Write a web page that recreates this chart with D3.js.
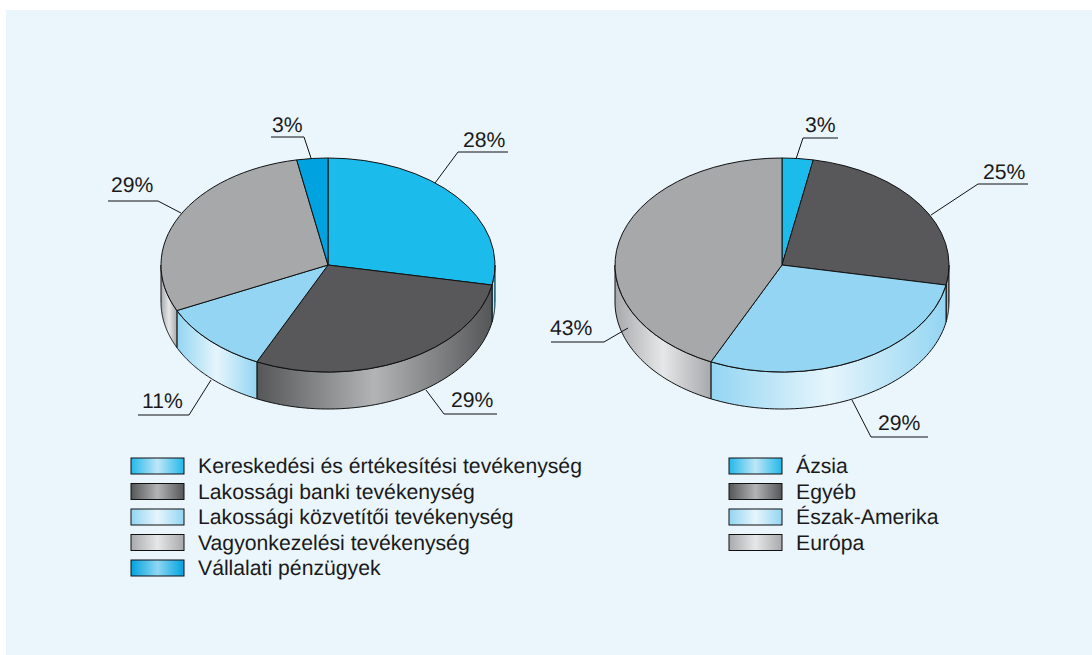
<!DOCTYPE html>
<html>
<head>
<meta charset="utf-8">
<script src="https://cdn.jsdelivr.net/npm/d3@7"></script>
<style>
	html, body { margin: 0; padding: 0; background: #fff; }
	svg { display: block; }
	text { font-family: "Liberation Sans", Arial, sans-serif; fill: #1a1a1a; text-rendering: geometricPrecision; }
</style>
</head>
<body>
<script>
// values, percent
const businessNames = ['Kereskedési és értékesítési tevékenység', 'Lakossági banki tevékenység', 'Lakossági közvetítői tevékenység', 'Vagyonkezelési tevékenység', 'Vállalati pénzügyek'];
const businessValues = [28, 29, 11, 29, 3];
const regionNames = ['Ázsia', 'Egyéb', 'Észak-Amerika', 'Európa'];
const regionValues = [3, 25, 29, 43];

const sky = { top: '#1bbbec', edge: '#22b8ea', mid: '#bfe6f7' };
const dark = { top: '#58585a', edge: '#555658', mid: '#b3b4b6' };
const light = { top: '#93d5f2', edge: '#93d5f2', mid: '#e6f5fc' };
const gray = { top: '#a7a8aa', edge: '#a7a9ac', mid: '#e6e7e8' };
const deep = { top: '#00a3df', edge: '#00a3df', mid: '#8fd6f3' };

const businessColors = [sky, dark, light, gray, deep];
const regionColors = [sky, dark, light, gray];

// leader lines: [anchor, elbow, end], then label x and baseline
const businessLeaders = [
	{ pts: [[435, 183], [458, 152], [508, 152]], tx: 463, ty: 147 },
	{ pts: [[426, 390], [444, 414], [497, 414]], tx: 451, ty: 407 },
	{ pts: [[211, 380], [189, 415], [138, 415]], tx: 142, ty: 408 },
	{ pts: [[181, 213], [158, 201], [108, 201]], tx: 111, ty: 192 },
	{ pts: [[311, 158], [304, 137], [271, 137]], tx: 272, ty: 132 }
];
const regionLeaders = [
	{ pts: [[796, 159], [803, 138], [838, 138]], tx: 805, ty: 132 },
	{ pts: [[931, 215], [978, 184], [1028, 184]], tx: 983, ty: 179 },
	{ pts: [[852, 400], [871, 437], [928, 437]], tx: 878, ty: 430 },
	{ pts: [[628, 328], [604, 342], [551, 342]], tx: 550, ty: 335 }
];

const W = 1092, H = 655;
const rx = 167, ry = 107, depth = 37;
const fontSize = 21.2;

const svg = d3.select('body').append('svg').attr('width', W).attr('height', H);
const defs = svg.append('defs');
svg.append('rect').attr('x', 6).attr('y', 10).attr('width', W - 6).attr('height', H - 10).attr('fill', '#eaf5fc');

let gradId = 0;
function wallGradient(c) {
	let id = 'wall' + (gradId++);
	let g = defs.append('linearGradient').attr('id', id);
	g.append('stop').attr('offset', 0).attr('stop-color', c.edge);
	g.append('stop').attr('offset', 0.5).attr('stop-color', c.mid);
	g.append('stop').attr('offset', 1).attr('stop-color', c.edge);
	return `url(#${id})`;
}

function drawPie(cx, cy, values, colors, leaders) {
	const g = svg.append('g');
	const x = d3.scaleLinear().domain([-1, 1]).range([cx - rx, cx + rx]);
	const y = d3.scaleLinear().domain([-1, 1]).range([cy - ry, cy + ry]);
	const slices = d3.pie().sort(null).startAngle(0).endAngle(2 * Math.PI)(values);
	const arc = d3.arc().innerRadius(0).outerRadius(rx);

	// walls, only the front half of the cylinder shows
	for(let s of slices) {
		let a0 = Math.max(s.startAngle, Math.PI / 2);
		let a1 = Math.min(s.endAngle, Math.PI * 1.5);
		if(a1 <= a0) { continue; }
		let angles = d3.range(0, 61).map(i => a0 + (a1 - a0) * i / 60);
		let rim = angles.map(a => [x(Math.sin(a)), y(-Math.cos(a))]);
		let low = rim.map(p => [p[0], p[1] + depth]).reverse();
		g.append('path')
			.attr('d', d3.line()(rim.concat(low)) + 'Z')
			.attr('fill', wallGradient(colors[s.index]))
			.attr('stroke', '#111')
			.attr('stroke-width', 1)
			.attr('stroke-linejoin', 'round');
	}

	// top face, a circular arc squashed into the ellipse
	g.append('g')
		.attr('transform', `translate(${cx},${cy}) scale(1,${ry / rx})`)
		.selectAll('path').data(slices).enter()
		.append('path')
		.attr('d', arc)
		.attr('fill', d => colors[d.index].top)
		.attr('stroke', '#111')
		.attr('stroke-width', 1)
		.attr('stroke-linejoin', 'round')
		.attr('vector-effect', 'non-scaling-stroke');

	// leaders and labels
	for(let i = 0; i < leaders.length; i++) {
		let l = leaders[i];
		g.append('path')
			.attr('d', d3.line()(l.pts))
			.attr('fill', 'none')
			.attr('stroke', '#111')
			.attr('stroke-width', 1);
		g.append('text')
			.attr('x', l.tx)
			.attr('y', l.ty)
			.attr('font-size', fontSize)
			.text(values[i] + '%');
	}
}

function drawLegend(x0, names, colors) {
	const rows = d3.scaleLinear().domain([0, 4]).range([466, 568]);
	const g = svg.append('g');
	names.forEach((name, i) => {
		g.append('rect')
			.attr('x', x0).attr('y', rows(i) - 8)
			.attr('width', 53).attr('height', 16)
			.attr('fill', wallGradient(colors[i]))
			.attr('stroke', '#111').attr('stroke-width', 1);
		g.append('text')
			.attr('x', x0 + 67).attr('y', rows(i) + 7)
			.attr('font-size', fontSize)
			.text(name);
	});
}

drawPie(328, 265, businessValues, businessColors, businessLeaders);
drawPie(782, 265, regionValues, regionColors, regionLeaders);
drawLegend(131, businessNames, businessColors);
drawLegend(729, regionNames, regionColors);
</script>
</body>
</html>
